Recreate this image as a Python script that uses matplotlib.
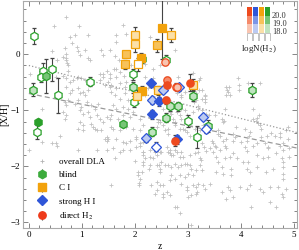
import numpy as np
import matplotlib
matplotlib.use("Agg")
import matplotlib.pyplot as plt
from matplotlib.patches import Rectangle

plt.rcParams['font.family'] = ['Liberation Serif', 'DejaVu Serif']
plt.rcParams['mathtext.fontset'] = 'stix'

# overall DLA sample (z, [X/H])
dla_z = [0.71, 0.48, 0.94, 0.87, 0.77, 1.12, 0.82, 0.68, 1.37, 0.93, 0.44, 0.71, 0.96, 1.40, 0.64,
         0.71, 0.71, 0.72, 0.54, 1.15, 0.74, 0.73, 0.02, 0.64, 1.40, 1.54, 0.52, 0.90, 1.53, 1.65,
         0.90, 1.06, 1.53, 1.62, 1.11, 1.34, 1.47, 1.65, 1.79, 1.94, 1.78,
         1.64, 1.83, 1.65, 2.28, 2.75, 1.70, 1.60, 1.72, 1.92, 2.20, 2.35, 2.47, 2.82, 2.19, 2.35,
         3.09, 3.21, 3.24, 3.95, 3.73, 3.74, 3.78, 3.21, 3.26, 3.72, 3.79, 3.97, 4.36, 3.96, 4.14,
         3.12, 3.16, 3.19, 2.88, 2.86, 2.94, 3.35, 3.40, 3.51, 3.64, 3.68, 4.23, 4.28, 4.33, 2.69,
         2.75, 2.44,
         3.76, 3.32, 3.32, 3.32, 3.70, 4.23, 4.35, 4.30, 3.67, 3.91, 4.08, 4.36, 4.39, 4.58, 4.74,
         4.85, 4.89, 4.49, 4.16, 3.89, 3.85, 3.57, 3.57, 3.45, 3.48, 3.51, 3.54, 3.26, 3.30, 3.35,
         3.70, 3.73, 4.08, 4.11, 4.52, 4.74, 4.79, 4.92, 3.60, 3.85,
         2.35, 2.41, 2.57, 2.63, 2.91, 2.98, 3.04, 3.60, 3.67, 3.73, 3.85, 4.01, 4.11, 4.17, 4.23,
         4.30, 4.39, 4.45, 4.52, 4.64, 4.74, 4.80, 4.89,
         2.38, 2.47, 2.66, 2.72, 2.75, 2.88, 2.91, 3.04, 3.13, 3.42, 3.48, 3.54, 3.57, 3.70, 3.79,
         3.92, 4.04, 4.14, 4.30, 4.42, 4.52, 4.67, 4.77, 4.80, 4.92,
         2.28, 2.41, 2.50, 2.69, 2.88, 2.98, 3.16, 3.26, 3.54, 3.64, 3.67, 3.82, 3.82, 4.11, 4.17,
         4.30, 4.48, 4.61, 4.80, 4.80, 4.80,
         2.41, 2.53, 2.66, 2.88, 2.98, 3.10, 3.29, 3.32, 3.42, 3.64, 3.76, 3.79, 3.98, 4.11, 4.17,
         4.36, 4.42, 4.55, 4.70, 4.77, 4.86,
         2.38, 2.53, 3.07, 3.16, 3.73, 3.85, 4.55, 4.80, 4.67, 2.75, 2.79, 2.85, 3.07, 4.20,
         2.16, 2.16, 2.19, 2.28, 2.35, 2.41, 2.63, 2.69, 2.79, 2.85, 3.19, 3.23, 1.62, 2.00, 2.15,
         2.16, 2.27, 2.46, 2.47, 2.47, 2.57, 2.63, 2.75, 2.82, 2.94, 3.04, 3.07, 3.23, 3.25, 2.06,
         2.06, 1.56, 2.08, 2.30, 2.47, 2.69, 2.75, 2.85, 2.94, 3.01, 3.10, 2.41, 2.53, 2.60, 2.66,
         2.98, 3.01, 3.16, 3.19, 3.18,
         1.56, 1.65, 1.72, 1.84, 1.81, 1.56, 1.62, 1.72, 1.81, 1.87, 1.59, 1.65, 1.78, 1.87, 1.97,
         1.56, 1.68, 1.78, 1.91, 2.09, 1.59, 1.72, 1.84, 1.97, 2.09, 2.16, 1.65, 1.78, 1.91, 2.03,
         2.09, 1.59, 1.72, 1.91, 2.03, 2.16, 2.28, 2.50, 2.60, 2.66,
         2.47, 2.53, 2.63, 2.75, 2.85, 2.94, 3.04, 3.13, 3.23, 3.29, 2.53, 2.66, 2.79, 2.88, 2.98,
         3.10, 3.19, 3.26, 2.72, 2.88, 3.04, 2.09, 2.19, 2.25, 2.35, 2.79, 2.88, 2.94, 3.16, 3.26,
         3.32,
         0.71, 0.77, 0.82, 0.93, 0.96, 1.02, 1.06, 1.12, 0.68, 0.71, 0.74, 0.87, 0.93, 0.99, 1.09,
         1.18, 1.25, 1.31, 0.65, 0.71, 0.68, 0.96, 1.02, 1.12, 1.15, 1.28, 1.34, 0.96, 1.02, 0.93,
         1.18, 1.21, 1.28, 1.40, 1.47, 1.53, 1.56, 1.47, 1.48, 1.50, 0.24, 0.58, 0.43, 0.52, 0.53,
         0.01, 0.24, 0.93, 1.28, 1.47, 0.71, 0.77, 0.84, 0.93, 0.99, 1.06, 1.34, 1.40, 1.43, 1.50,
         1.53,
         1.02, 1.25, 1.37, 1.43, 1.78, 1.84, 2.03, 2.09, 2.16, 2.09, 2.13, 2.08]
dla_m = [0.67, 0.50, 0.51, 0.34, 0.31, 0.34, 0.20, 0.11, 0.07, 0.06, 0.05, 0.01, -0.02, -0.02, -0.05,
         -0.07, -0.11, -0.15, -0.11, -0.11, -0.20, -0.29, -0.35, -0.38, -0.36, -0.36, -0.40, -0.42, -0.43, -0.26,
         0.13, 0.08, 0.07, -0.04, -0.06, -0.36, -0.29, -0.40, -0.38, -0.46, 0.52,
         0.34, 0.37, 0.22, 0.30, 0.08, -0.11, -0.26, -0.32, -0.20, -0.17, -0.26, -0.20, -0.40, -0.40, -0.43,
         -0.33, -0.46, -0.42, -0.42, -0.58, -0.63, -0.59, -0.64, -0.63, -0.73, -0.73, -0.64, -0.52, -0.55, -0.52,
         -0.85, -0.82, -0.93, -0.76, -1.09, -1.00, -1.06, -1.09, -1.09, -1.15, -1.19, -1.15, -1.19, -1.23, -1.06,
         -1.21, -1.21,
         -0.68, -0.74, -0.80, -0.86, -0.97, -0.97, -1.09, -1.14, -1.21, -1.30, -1.33, -1.27, -1.33, -1.40, -1.40,
         -1.36, -1.30, -1.45, -1.45, -1.48, -1.54, -1.36, -1.42, -1.54, -1.59, -1.63, -1.66, -1.59, -1.66, -1.73,
         -1.63, -1.68, -1.66, -1.73, -1.66, -1.63, -1.71, -1.67, -1.71, -1.76,
         -1.33, -1.30, -1.36, -1.42, -1.33, -1.39, -1.45, -1.45, -1.54, -1.51, -1.42, -1.57, -1.54, -1.39, -1.63,
         -1.59, -1.48, -1.59, -1.68, -1.45, -1.48, -1.59, -1.51,
         -1.74, -1.74, -1.77, -1.80, -1.71, -1.74, -1.83, -1.80, -1.77, -1.68, -1.74, -1.83, -1.92, -1.86, -1.83,
         -1.86, -1.92, -1.92, -1.80, -1.86, -1.83, -1.77, -1.86, -1.92, -1.83,
         -1.98, -1.98, -1.92, -2.01, -1.98, -1.95, -2.07, -2.07, -2.10, -2.01, -2.13, -2.04, -2.16, -2.04, -2.10,
         -2.01, -2.10, -2.04, -2.01, -2.13, -2.22,
         -2.28, -2.34, -2.25, -2.31, -2.37, -2.34, -2.34, -2.40, -2.31, -2.46, -2.37, -2.43, -2.37, -2.40, -2.34,
         -2.40, -2.46, -2.37, -2.37, -2.49, -2.40,
         -2.49, -2.55, -2.52, -2.49, -2.58, -2.55, -2.64, -2.55, -2.73, -2.73, -2.73, -2.84, -3.04, -2.73,
         -1.74, -1.80, -1.86, -1.83, -1.86, -1.80, -1.74, -1.80, -1.74, -1.83, -1.74, -1.86, -1.86, -1.91, -1.92,
         -1.98, -2.04, -1.98, -2.04, -2.10, -1.98, -1.98, -1.95, -2.01, -1.95, -1.98, -2.04, -1.98, -1.89, -2.10,
         -2.16, -2.33, -2.30, -2.34, -2.34, -2.16, -2.22, -2.16, -2.19, -2.13, -2.16, -2.43, -2.49, -2.46, -2.52,
         -2.43, -2.55, -2.37, -2.31, -2.46,
         -0.55, -0.61, -0.52, -0.49, -0.58, -0.67, -0.73, -0.79, -0.70, -0.82, -0.91, -0.97, -0.94, -0.97, -1.03,
         -1.09, -1.15, -1.09, -1.12, -1.15, -1.33, -1.36, -1.30, -1.33, -1.36, -1.27, -1.51, -1.57, -1.54, -1.48,
         -1.59, -1.68, -1.74, -1.71, -1.66, -1.74, -1.71, -1.74, -1.66, -1.71,
         -1.21, -1.27, -1.33, -1.27, -1.33, -1.36, -1.27, -1.33, -1.36, -1.27, -0.97, -1.03, -1.03, -0.97, -1.09,
         -1.03, -0.97, -1.00, -1.15, -1.15, -1.18, -0.67, -0.73, -0.61, -0.58, -0.70, -0.73, -0.67, -0.70, -0.79,
         -0.73,
         -0.58, -0.70, -0.64, -0.61, -0.70, -0.67, -0.73, -0.64, -0.85, -0.91, -0.82, -0.88, -0.82, -0.94, -0.85,
         -0.91, -0.97, -0.88, -1.03, -1.09, -1.15, -1.00, -1.06, -1.03, -1.12, -1.09, -1.15, -1.21, -1.27, -1.33,
         -1.24, -1.30, -1.36, -1.21, -1.12, -1.15, -1.30, -1.48, -1.54, -1.51, -0.97, -1.45, -1.59, -1.59, -1.63,
         -1.71, -1.57, -1.71, -1.71, -1.71, -0.43, -0.49, -0.46, -0.40, -0.43, -0.46, -0.46, -0.40, -0.55, -0.49,
         -0.58,
         -1.36, -1.33, -1.36, -1.51, -1.71, -1.59, -1.51, -1.63, -1.57, -2.22, -2.10, -2.34]

# H2 samples: z, [X/H], error, logN(H2) bin (0: <18, 1: 18-19, 2: 19-20, 3: >20)
blind_z = [0.10, 0.26, 0.22, 0.32, 0.44, 0.08, 0.55, 1.15, 0.18, 0.16, 1.78, 1.96, 1.97, 1.99,
           2.14, 2.59, 3.09, 4.21, 2.66, 2.82, 2.58, 3.01, 2.33, 3.18, 3.38]
blind_m = [0.32, -0.30, -0.40, -0.39, -0.27, -0.63, -0.73, -0.49, -1.21, -1.39, -1.24, -0.36, -0.59, -0.85,
           -0.08, -0.10, -0.74, -0.64, -0.93, -0.93, -1.13, -1.19, -1.38, -1.48, -1.28]
blind_e = [0.14, 0.15, 0.10, 0.30, 0.20, 0.12, 0.31, 0.08, 0.05, 0.12, 0.05, 0.10, 0.10, 0.10,
           0.08, 0.08, 0.10, 0.12, 0.08, 0.08, 0.08, 0.10, 0.08, 0.20, 0.10]
blind_b = [0, 0, 0, 2, 0, 1, 0, 0, 3, 0, 2, 0, 1, 0, 2, 0, 1, 1, 1, 1, 1, 0, 1, 0, 1]

ci_z = [2.00, 2.00, 1.83, 1.82, 2.11, 2.06, 2.52, 2.68, 2.41, 2.14, 2.05, 2.43, 3.09]
ci_m = [0.34, 0.19, 0.00, -0.18, -0.06, -0.18, 0.47, 0.34, 0.16, -0.65, -0.75, -0.64, -0.55]
ci_e = [0.15, 0.15, 0.05, 0.08, 0.08, 0.12, 0.55, 0.12, 0.12, 0.08, 0.12, 0.08, 0.10]
ci_b = [1, 1, 2, 2, 3, 0, 3, 1, 2, 3, 1, 1, 1]

hi_z = [2.30, 2.54, 2.32, 2.46, 2.33, 2.22, 2.40, 2.79, 3.28, 3.34, 2.84]
hi_m = [-0.52, -0.64, -0.82, -0.84, -1.07, -1.50, -1.65, -1.52, -1.12, -1.34, -0.59]
hi_e = [0.06, 0.06, 0.06, 0.08, 0.08, 0.06, 0.08, 0.08, 0.06, 0.06, 0.06]
hi_b = [3, 1, 1, 3, 3, 1, 0, 3, 1, 0, 1]

h2_z = [2.60, 2.60, 2.77, 2.80, 3.04, 2.58, 2.76, 2.57]
h2_m = [-0.46, -0.54, -0.58, -0.59, -0.51, -0.82, -1.54, -0.14]
h2_e = [0.06, 0.06, 0.06, 0.06, 0.15, 0.06, 0.10, 0.06]
h2_b = [2, 3, 1, 1, 3, 3, 3, 1]

# fitted trends
trend_z = [0.0, 5.2]
trend_dot = [-0.20, -1.43]
trend_dash = [-0.70, -1.70]

bin_labels = ['18.0', '19.0', '20.0']

reds = ['white', '#f9c4b0', '#f58a6a', '#ee4a1e']
blues = ['white', '#bccaf2', '#7b95e6', '#2f56d8']
oranges = ['white', '#fbe0a8', '#f7c25a', '#f2a20c']
greens = ['white', '#bfe3bf', '#76c576', '#2aa02a']

fig = plt.figure(figsize=(2.99, 2.50), dpi=100)
ax = fig.add_axes([0.077, 0.088, 0.916, 0.908])

ax.plot(dla_z, dla_m, '+', color='#c2c2c2', ms=2.3, mew=0.6, zorder=1)
ax.plot(trend_z, trend_dot, ':', color='#999999', lw=0.9, zorder=2)
ax.plot(trend_z, trend_dash, '--', color='#999999', lw=0.9, dashes=(4, 2.5), zorder=2)

def draw(zs, ms, es, bs, mk, cols, size):
    for z, m, e, b in zip(zs, ms, es, bs):
        ax.errorbar(z, m, yerr=e, fmt=mk, ms=size, mfc=cols[b], mec=cols[3], mew=0.9,
                    ecolor='#444444', elinewidth=0.8, capsize=1.2, capthick=0.6, zorder=3)

draw(blind_z, blind_m, blind_e, blind_b, 'h', greens, 6.0)
draw(ci_z, ci_m, ci_e, ci_b, 's', oranges, 5.3)
draw(hi_z, hi_m, hi_e, hi_b, 'D', blues, 4.8)
draw(h2_z, h2_m, h2_e, h2_b, 'o', reds, 5.3)

# legend
hd = [ax.plot([], [], '+', color='#b3b3b3', ms=2.6, mew=0.6)[0]]
for mk, c, s in [('h', '#3cab3c', 6.0), ('s', '#f2a20c', 5.3), ('D', '#2f56d8', 4.8), ('o', '#ee3a1a', 5.3)]:
    hd.append(ax.errorbar([np.nan], [np.nan], yerr=[0.1], fmt=mk, ms=s, mfc=c, mec=c,
                          ecolor='#444444', elinewidth=0.8, capsize=0))
leg = ax.legend(hd, ['overall DLA', 'blind', 'C I', 'strong H I', 'direct H$_2$'],
                loc='lower left', bbox_to_anchor=(0.025, 0.0), frameon=False, fontsize=6.5,
                handlelength=1.2, handletextpad=1.3, labelspacing=0.55, borderpad=0.2)

ax.set_xlim(-0.11, 5.06)
ax.set_ylim(-3.1, 0.95)
ax.set_xticks([0, 1, 2, 3, 4, 5])
ax.set_xticks(np.arange(-0.0, 5.01, 0.2), minor=True)
ax.set_yticks([-3, -2, -1, 0])
ax.set_yticks(np.arange(-3.0, 0.95, 0.2), minor=True)
ax.tick_params(which='both', direction='in', top=True, right=True, labelsize=6.5,
               color='#555555', width=0.5, pad=2)
ax.tick_params(which='major', length=3.5)
ax.tick_params(which='minor', length=2)
for sp in ax.spines.values():
    sp.set_color('#aaaaaa')
    sp.set_linewidth(0.8)
ax.set_xlabel('z', fontsize=7, labelpad=2)
ax.set_ylabel('[X/H]', fontsize=7, labelpad=1)

# logN(H2) colour key
cax = fig.add_axes([0.826, 0.836, 0.080, 0.136])
cax.set_xlim(0, 4)
cax.set_ylim(17, 21)
cax.axis('off')
for i, cols in enumerate([reds, blues, oranges, greens]):
    for j in range(4):
        cax.add_patch(Rectangle((i + 0.08, 17 + j), 0.84, 1, facecolor=cols[j],
                                edgecolor='#aaaaaa' if j == 0 else 'none', lw=0.5))
for j, lab in enumerate(bin_labels):
    cax.text(4.15, 18 + j, lab, fontsize=6, va='center', ha='left', color='#333333')
cax.text(4.9, 16.75, 'logN(H$_2$)', fontsize=6.5, va='top', ha='right', color='#222222')

fig.savefig('out.png', dpi=100)
